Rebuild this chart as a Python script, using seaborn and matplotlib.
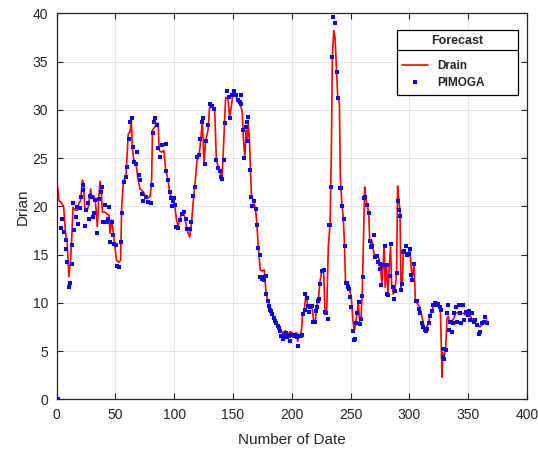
import matplotlib
matplotlib.use("Agg")
import matplotlib.pyplot as plt
from matplotlib.lines import Line2D
import numpy as np
import pandas as pd
import seaborn as sns

# ---------------- data ----------------
drain_day = [
    1, 2, 4, 6, 8, 9, 10.5, 12, 13, 14,
    16, 18, 19, 20.5, 22, 23, 24, 26, 27, 29,
    30, 32, 33, 34.7, 36, 37, 38, 39, 41, 43,
    44.6, 45.5, 47, 48.3, 49.7, 51, 53, 54.5, 55.4, 57,
    59, 61, 62.5, 63.6, 64.4, 66, 67.6, 69.5, 71, 73.8,
    76.6, 79.5, 80.8, 81.6, 83.6, 85, 86.4, 87.3, 89.3, 91.2,
    92.9, 94.9, 96.3, 97.7, 99.2, 100.6, 102, 103.4, 105.4, 107.6,
    109, 110.5, 111.9, 113.3, 114.7, 116.1, 117.5, 119.5, 121.2, 122.6,
    124, 125.4, 126.8, 128.8, 130.2, 132.5, 134.5, 135.9, 137.9, 139.3,
    140.7, 141.5, 142.9, 143.8, 145.8, 147.2, 148.6, 150, 152.8, 154.2,
    156.2, 157.9, 159, 160.1, 161.3, 162.1, 163, 164.1, 164.9, 165.8,
    167.5, 169.2, 170.3, 171.5, 173.2, 174.9, 176.6, 178.2, 179.7, 181.1,
    183.1, 184.7, 186.7, 188.7, 190.4, 192.4, 194.6, 196.6, 198.6, 200.3,
    202.3, 203.7, 205.1, 206.5, 207.9, 209.3, 210.7, 212.1, 213.6, 215.5,
    217.2, 218.6, 220.1, 221.2, 222.6, 224, 225.7, 227.1, 228.2, 229.7,
    231.1, 232.6, 233.7, 234.5, 235.7, 236.8, 238.1, 239.1, 240.5, 241.3,
    242.5, 243.8, 244.9, 245.7, 247.7, 249.1, 250.6, 252, 253.1, 254.3,
    255.4, 256.6, 257.7, 258.9, 260, 260.9, 262, 262.9, 264, 265.4,
    266.3, 267.4, 268.3, 269.7, 271.1, 272.6, 274, 275.4, 276.6, 277.7,
    278.6, 279.4, 280.6, 281.7, 282.9, 284, 284.9, 286.3, 287.7, 289.1,
    290, 291.1, 292, 292.9, 294, 294.9, 296.3, 297.7, 299.1, 300,
    301.1, 302.3, 304, 305.1, 306.9, 308.6, 310.5, 312, 313.4, 314.8,
    316.2, 317.7, 319.1, 320.6, 322, 323.4, 324.8, 326.3, 327.1, 327.7,
    328.5, 329.7, 330.8, 332, 333.1, 334.3, 336, 337.7, 339.4, 341.1,
    342.8, 344.6, 346.3, 348, 349.7, 351.4, 352.9, 354.3, 355.7, 357.1,
    358.6, 360, 361.4, 362.9, 364.3, 365.7,
]
drain_val = [
    22.0, 20.6, 20.4, 20.0, 16.8, 16.5, 12.7, 14.4, 16.8, 19.9,
    19.6, 19.6, 20.3, 20.6, 22.7, 22.3, 19.9, 19.6, 19.9, 21.8,
    20.8, 21.0, 20.6, 17.9, 21.0, 22.6, 21.8, 19.4, 19.4, 19.2,
    19.1, 17.2, 18.6, 17.2, 15.8, 14.4, 14.2, 14.4, 19.9, 22.7,
    23.0, 27.5, 27.7, 29.1, 26.1, 24.6, 24.4, 22.7, 21.8, 21.5,
    20.8, 21.0, 22.3, 27.9, 28.2, 28.6, 28.6, 25.8, 25.6, 25.8,
    23.7, 22.7, 21.3, 21.0, 20.4, 20.1, 18.6, 18.0, 18.9, 19.4,
    18.9, 17.9, 17.2, 16.8, 18.2, 20.3, 22.0, 24.8, 25.3, 26.8,
    28.9, 24.4, 26.8, 27.9, 30.3, 30.3, 29.9, 24.8, 23.9, 23.4,
    22.9, 24.8, 28.9, 31.3, 31.1, 29.2, 30.3, 31.7, 31.4, 30.8,
    30.6, 29.8, 26.8, 25.1, 27.9, 26.8, 28.6, 26.8, 23.7, 21.0,
    20.6, 19.7, 18.3, 15.9, 13.4, 13.3, 13.4, 11.0, 10.2, 9.7,
    9.0, 8.4, 7.9, 7.4, 7.1, 6.9, 7.1, 6.7, 7.0, 6.9,
    6.7, 6.9, 6.0, 6.7, 6.7, 8.8, 9.3, 10.9, 9.7, 9.7,
    9.7, 8.1, 8.1, 9.7, 10.3, 12.2, 13.4, 13.3, 9.3, 9.1,
    15.9, 18.2, 25.8, 35.4, 38.2, 37.5, 33.9, 31.3, 30.7, 23.0,
    20.5, 18.8, 15.9, 12.1, 12.1, 11.4, 10.6, 8.2, 7.0, 7.8,
    8.9, 10.1, 8.0, 8.5, 11.3, 16.1, 22.0, 20.9, 20.1, 19.4,
    16.4, 15.9, 16.4, 15.2, 14.7, 14.9, 14.6, 13.7, 12.0, 14.0,
    15.9, 11.6, 14.0, 10.9, 13.7, 15.8, 12.0, 10.9, 11.3, 13.0,
    22.1, 20.6, 19.6, 11.6, 12.1, 15.4, 15.2, 15.2, 15.1, 15.6,
    14.4, 12.5, 14.0, 10.2, 9.9, 9.6, 8.7, 7.8, 7.3, 7.5,
    8.0, 8.7, 9.2, 9.7, 9.9, 10.1, 9.7, 9.4, 5.8, 2.3,
    4.8, 4.6, 5.1, 8.4, 8.6, 8.0, 8.0, 8.4, 8.9, 9.0,
    8.9, 8.9, 8.9, 8.7, 8.9, 8.8, 8.4, 8.2, 8.0, 7.8,
    7.7, 7.5, 7.7, 7.8, 8.0, 8.2,
]

pimoga_day = [
    0, 1, 3.5, 4.4, 6.4, 7.8, 8.1, 9.2, 10.6, 11.2,
    12.9, 13.2, 14.3, 15.2, 16.6, 17.7, 18.5, 19.9, 20.8, 22.2,
    22.8, 24.2, 24.8, 27.1, 27.9, 28.5, 29.9, 30.7, 32.2, 32.6,
    34.7, 36.1, 37.5, 38.4, 39.8, 41.2, 42.6, 43.5, 44.9, 45.5,
    46.9, 47.7, 49.1, 50.6, 51.7, 53.4, 54.8, 56, 57.4, 58.8,
    60.2, 61.3, 62.5, 63.9, 64.7, 66.1, 67.6, 68.7, 69.8,
    70.9, 72.3, 73.7, 76, 78, 80.2, 81.1, 82.2, 83.1, 83.6,
    85.6, 86.4, 88.4, 90.1, 92.9, 93.5, 94.9, 96.3, 97.2, 98.3,
    99.2, 100, 101.1, 102, 103.4, 104.8, 106.8, 108.5, 109.9, 111.3,
    113.3, 114.7, 116.1, 117.5, 119.5, 121.2, 122.3, 123.4, 124.6, 126,
    127.4, 128.8, 130.8, 132.5, 133.6, 135.9, 137.3, 138.7, 140.1, 141,
    142.1, 143.5, 144.9, 146.6, 147.7, 149.4, 150.8,
    152.8, 154.2, 155.6, 156.5, 157, 158.5, 159.6, 160.7, 161.8, 162.4,
    163, 164.1, 165.5, 166.4, 167.5,
    169.2, 170.3, 171.5, 172.6, 173.4, 174.6, 176, 176.8, 177.7, 178.2,
    179.7, 180.5, 181.6, 182.5, 183.3, 184.5, 185.9, 186.7, 188.1, 189,
    190.1, 191, 192.4, 193.8, 195.2, 196.3, 197.5, 198.6, 199.4, 200.8,
    202.3, 203.7, 204.5, 205.4, 206.5, 207.6, 208.8, 209.9, 211, 211.6,
    212.7, 213.8, 215, 215.8, 216.9, 218.4, 219.5, 220.6, 221.2, 222.3,
    223.4, 224.1, 225.7, 227.1, 228, 229.1, 230.6, 231.4, 232.6, 233.6,
    234, 235.4, 237, 238.3, 239.4,
    241.1, 242, 242.9, 244, 244.9, 245.7, 246.9, 247.4, 248.6, 249.7,
    250.6, 252, 252.9, 254, 254.9, 255.4, 256.9, 257.7, 258.9, 259.7,
    260.6, 261.4, 262.6, 264, 265.4, 266.3, 267.4, 268.3, 270, 271.1,
    272.6, 273.4, 274.9, 275.4, 276.3, 277.7, 279.1, 280.6, 281.1, 282,
    283.4, 284.3, 285.7, 286.9, 287.7, 289.1, 290, 290.9, 292, 292.9,
    293.7, 294.9, 295.7, 297.1, 298.3, 299.4,
    300.6, 301.7, 302.6, 304.3, 305.7, 306.9, 308.3, 309.1, 310.6, 312,
    313.4, 314.3, 315.4, 316.3, 317.7, 319.1, 320.5, 322, 323.4, 324.2,
    325.7, 327.1, 328.2, 328.5, 329.7, 330.8, 331.9, 332.8, 333.9, 334.8,
    335.9, 337.1, 338.2, 339.3, 340.5, 341.9, 343.3, 344.2, 345.3, 346.8,
    347.9, 349.6, 351, 351.9, 353.3, 354.7, 356.2, 357.6, 359, 360.4,
    361.9, 363.3, 364.7, 365.6,
]
pimoga_val = [
    0.0, 0.0, 17.8, 18.7, 17.3, 15.6, 16.5, 14.2, 11.6, 12.1,
    14.0, 16.0, 20.3, 17.5, 18.9, 19.9, 18.2, 19.8, 21.0, 22.2,
    21.7, 18.0, 19.6, 20.3, 18.7, 21.1, 21.0, 18.9, 19.3, 20.7,
    17.2, 20.8, 21.5, 22.0, 18.4, 20.1, 18.4, 18.7, 19.9, 16.3,
    18.4, 17.0, 16.1, 16.0, 13.8, 13.7, 16.3, 19.3, 22.5, 23.0,
    24.1, 27.0, 28.7, 29.2, 26.1, 24.6, 24.4, 25.6, 23.2,
    22.7, 21.3, 20.6, 21.0, 20.4, 20.3, 22.2, 27.6, 28.7, 29.1,
    28.4, 26.0, 25.1, 26.4, 26.5, 23.7, 22.7, 21.5, 20.9, 20.0,
    20.6, 20.9, 20.1, 17.9, 17.7, 18.6, 19.2, 19.4, 18.7, 17.6,
    17.6, 18.4, 21.1, 22.0, 25.1, 25.3, 27.0, 28.7, 29.2, 24.4,
    26.8, 28.4, 30.6, 30.4, 30.1, 24.8, 24.0, 23.7, 23.0, 22.8,
    24.8, 28.6, 32.0, 31.3, 29.1, 31.5, 32.0,
    31.5, 31.0, 30.8, 31.5, 30.6, 27.9, 25.0, 28.2, 28.7, 29.3,
    26.8, 23.8, 21.0, 20.0, 20.6,
    19.7, 18.1, 15.7, 15.0, 12.7, 12.5, 12.7, 12.4, 12.8, 10.9,
    10.2, 9.7, 9.3, 9.1, 8.8, 8.4, 8.1, 7.9, 7.6, 7.4,
    7.1, 6.6, 6.3, 6.7, 6.9, 6.5, 6.6, 6.0, 6.7, 6.7,
    6.6, 6.7, 6.5, 5.5, 6.6, 6.6, 6.7, 8.8, 9.3, 10.9,
    10.5, 9.7, 9.0, 9.6, 9.7, 8.0, 8.0, 9.1, 9.6, 10.2,
    10.4, 12.0, 13.3, 13.4, 9.0, 8.9, 8.3, 18.1, 18.1, 22.0,
    35.5, 39.6, 39.0, 33.9, 31.2,
    21.9, 21.9, 20.0, 18.7, 15.9, 12.1, 12.1, 11.6, 11.4, 10.6,
    9.6, 7.1, 6.1, 6.2, 7.9, 8.9, 10.1, 7.8, 8.3, 10.7,
    12.7, 20.9, 21.0, 20.1, 19.3, 16.4, 15.8, 15.9, 17.0, 14.7,
    14.9, 14.2, 14.0, 13.5, 11.8, 13.9, 15.9, 13.9, 10.9, 10.8,
    12.8, 16.1, 11.6, 10.4, 11.2, 13.1, 20.6, 19.6, 19.0, 11.3,
    12.0, 15.3, 15.4, 15.9, 15.0, 15.1,
    15.6, 12.9, 12.4, 14.0, 10.2, 10.2, 9.4, 8.9, 7.9, 7.5,
    7.2, 7.1, 7.3, 7.9, 8.6, 9.2, 9.8, 10.0, 9.8, 9.9,
    9.6, 9.3, 5.2, 4.4, 4.2, 5.1, 8.9, 9.8, 7.2, 8.0,
    7.0, 7.9, 8.9, 9.6, 8.0, 9.8, 8.9, 7.9, 9.8, 8.2,
    9.0, 8.7, 9.2, 8.2, 8.9, 8.0, 8.2, 7.7, 6.8, 7.0,
    7.9, 8.0, 8.5, 7.9,
]

x_ticks = [0, 50, 100, 150, 200, 250, 300, 350, 400]
y_ticks = [0, 5, 10, 15, 20, 25, 30, 35, 40]
series_names = ["Drain", "PIMOGA"]
legend_title = "Forecast"

# ---------------- figure ----------------
sns.set_theme(style="white")
plt.rcParams["font.family"] = ["Liberation Sans", "DejaVu Sans"]

W, H = 538, 450
fig = plt.figure(figsize=(W / 100, H / 100), dpi=100)
left, right, top, bottom = 56.5, 527.0, 13.3, 399.3
ax = fig.add_axes([left / W, 1 - bottom / H, (right - left) / W, (bottom - top) / H])

drain_df = pd.DataFrame({"day": drain_day, "value": drain_val})
pim_df = pd.DataFrame({"day": pimoga_day, "value": pimoga_val})

sns.lineplot(data=drain_df, x="day", y="value", ax=ax, color="#ff0000",
             lw=1.2, sort=False, estimator=None, zorder=2)
sns.scatterplot(data=pim_df, x="day", y="value", ax=ax, color="#0000ff",
                marker="s", s=5.5, linewidth=0, zorder=3)

dark = "#262626"
ax.set_xlim(0, 400)
ax.set_ylim(0, 40)
ax.set_xticks(x_ticks)
ax.set_yticks(y_ticks)
ax.grid(True, color="#e3e3e3", lw=0.6)
ax.set_axisbelow(True)
for s in ax.spines.values():
    s.set_color(dark)
    s.set_linewidth(0.9)
    s.set_visible(True)
ax.tick_params(direction="in", length=4, width=0.8, color=dark, labelcolor=dark,
               labelsize=10, top=True, right=True, bottom=True, left=True, pad=6)
ax.set_xlabel("Number of Date", fontsize=11, color=dark, labelpad=8)
ax.set_ylabel("Drian", fontsize=11, color=dark, labelpad=2)

h_line = Line2D([], [], color="#ff0000", lw=1.2)
h_dot = Line2D([], [], color="#0000ff", marker="s", ls="none", markersize=2.3, markeredgewidth=0)
leg = ax.legend([h_line, h_dot], series_names, title=legend_title,
                loc="upper left", bbox_to_anchor=(0.723, 0.958, 0.258, 0.0),
                mode="expand", fancybox=False, framealpha=1, edgecolor="black",
                prop={"weight": "bold", "size": 8.5},
                title_fontproperties={"weight": "bold", "size": 9},
                borderpad=0.45, labelspacing=0.45, handlelength=2.2,
                handletextpad=0.8, borderaxespad=0)
leg.get_frame().set_linewidth(0.9)
try:
    leg._legend_box.sep = 9.5
except Exception:
    pass

fig.canvas.draw()
lb = leg.get_window_extent()
tb = leg.get_title().get_window_extent()
ysep = tb.y0 - 3.5
fig.add_artist(Line2D([lb.x0 / W, lb.x1 / W], [ysep / H, ysep / H],
                      transform=fig.transFigure, color="black", lw=0.9))

fig.savefig("out.png", dpi=100)
